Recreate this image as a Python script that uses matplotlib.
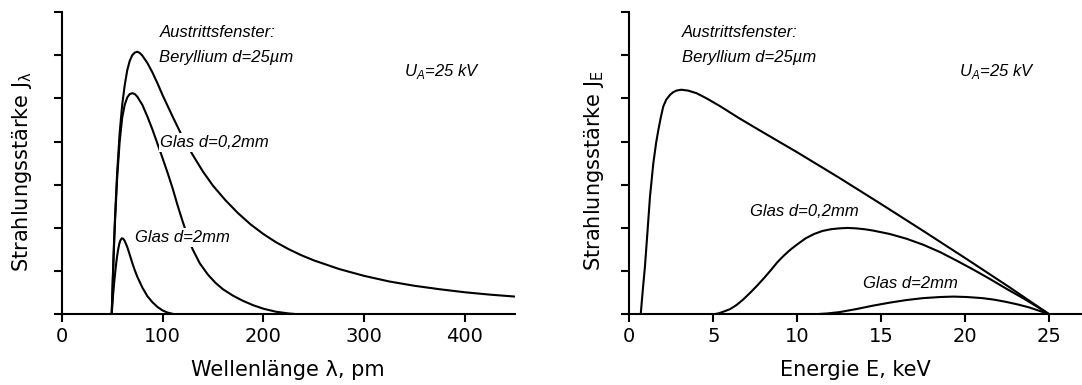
import matplotlib
matplotlib.use("Agg")
import matplotlib.pyplot as plt

# Wellenlaenge-Spektrum (pm), Werte
lam_be = [49.6, 51, 52, 53, 55, 57.5, 60, 62.5, 65, 67.5, 70, 72.5, 75, 77.5, 80, 85,
          90, 95, 100, 110, 120, 130, 140, 150, 162.5, 175, 187.5, 200, 212.5, 225,
          237.5, 250, 275, 300, 325, 350, 375, 400, 425, 450]
J_be = [0, 1.05, 1.72, 2.3, 3.28, 4.2, 4.85, 5.3, 5.65, 5.87, 6.0, 6.06, 6.08, 6.05,
        5.99, 5.82, 5.6, 5.35, 5.08, 4.58, 4.1, 3.69, 3.31, 2.98, 2.64, 2.34, 2.08,
        1.86, 1.67, 1.51, 1.37, 1.25, 1.05, 0.89, 0.76, 0.66, 0.58, 0.51, 0.455, 0.41]

lam_g02 = [49.6, 51, 52, 53, 55, 57.5, 60, 62.5, 65, 67.5, 70, 72.5, 75, 80, 85, 90,
           95, 100, 105, 110, 115, 120, 125, 130, 137, 145, 152.5, 160, 170, 180,
           190, 200, 212.5, 225, 235]
J_g02 = [0, 1.0, 1.65, 2.2, 3.15, 4.0, 4.55, 4.85, 5.02, 5.1, 5.12, 5.1, 5.04, 4.85,
         4.58, 4.28, 3.95, 3.62, 3.28, 2.92, 2.52, 2.15, 1.8, 1.5, 1.18, 0.92, 0.73,
         0.58, 0.43, 0.31, 0.21, 0.13, 0.06, 0.02, 0]

lam_g2 = [49.6, 51, 52, 53, 54, 55, 56, 57, 58, 59.5, 61, 62.5, 65, 67.5, 70, 72.5,
          75, 80, 85, 90, 95, 100, 105, 112]
J_g2 = [0, 0.45, 0.72, 0.95, 1.17, 1.35, 1.5, 1.62, 1.7, 1.76, 1.75, 1.7, 1.56,
        1.38, 1.19, 1.02, 0.87, 0.62, 0.42, 0.28, 0.17, 0.09, 0.04, 0]

# Energie-Spektrum (keV)
E_be = [0.68, 0.8, 0.93, 1.08, 1.23, 1.43, 1.6, 1.73, 1.87, 2.02, 2.2, 2.42, 2.6,
        2.8, 3.1, 3.5, 4.0, 4.6, 5.4, 6.5, 7.8, 10, 12.5, 15, 17.5, 20, 22.5, 25]
JE_be = [0, 0.55, 1.1, 1.9, 2.72, 3.5, 3.98, 4.27, 4.55, 4.81, 4.97, 5.08, 5.14,
         5.18, 5.2, 5.18, 5.12, 5.0, 4.82, 4.55, 4.25, 3.75, 3.16, 2.55, 1.93, 1.3,
         0.66, 0]

E_g02 = [5.0, 5.3, 5.6, 6.0, 6.4, 6.8, 7.2, 7.6, 8.0, 8.4, 8.8, 9.2, 9.6, 10.0, 10.5,
         11.0, 11.5, 12.0, 12.5, 13.0, 13.5, 14.0, 14.5, 15.5, 16.5, 17.5, 18.5,
         19.5, 20.5, 21.5, 22.5, 23.5, 24.3, 25.0]
JE_g02 = [0, 0.02, 0.06, 0.12, 0.22, 0.35, 0.5, 0.66, 0.83, 1.01, 1.2, 1.36, 1.5,
          1.62, 1.76, 1.86, 1.93, 1.97, 1.99, 2.0, 1.99, 1.97, 1.94, 1.86, 1.75,
          1.61, 1.44, 1.24, 1.03, 0.81, 0.58, 0.36, 0.17, 0]

E_g2 = [11.0, 11.8, 12.5, 13.5, 14.5, 15.5, 16.5, 17.5, 18.5, 19.3, 20.1, 21.0,
        21.7, 22.4, 23.1, 23.8, 24.45, 25.0]
JE_g2 = [0, 0.02, 0.05, 0.12, 0.2, 0.27, 0.33, 0.375, 0.4, 0.41, 0.4, 0.375, 0.34,
         0.29, 0.23, 0.16, 0.075, 0]

lam_ticks = [0, 100, 200, 300, 400]
E_ticks = [0, 5, 10, 15, 20, 25]

W, H = 1082, 385
fig = plt.figure(figsize=(W / 100, H / 100), dpi=100)


def fr(x, y):
    return x / W, 1 - y / H


def style(ax, xticks):
    for s in ["top", "right"]:
        ax.spines[s].set_visible(False)
    for s in ["left", "bottom"]:
        ax.spines[s].set_linewidth(1.5)
    ax.set_ylim(0, 7)
    ax.set_yticks(range(8))
    ax.set_yticklabels([])
    ax.set_xticks(xticks)
    ax.tick_params(direction="out", length=5.8, width=1.5, pad=3, labelsize=14)


ax1 = fig.add_axes([61.7 / W, 1 - 314.3 / H, (515.3 - 61.7) / W, (314.3 - 12) / H])
ax1.plot(lam_be, J_be, color="black", lw=1.5)
ax1.plot(lam_g02, J_g02, color="black", lw=1.5)
ax1.plot(lam_g2, J_g2, color="black", lw=1.5)
ax1.set_xlim(0, 450)
style(ax1, lam_ticks)

ax2 = fig.add_axes([629.3 / W, 1 - 314.3 / H, (W - 629.3) / W, (314.3 - 12) / H])
ax2.plot(E_be, JE_be, color="black", lw=1.5)
ax2.plot(E_g02, JE_g02, color="black", lw=1.5)
ax2.plot(E_g2, JE_g2, color="black", lw=1.5)
ax2.set_xlim(0, (W - 629.3) / 16.8)
style(ax2, E_ticks)

# Achsenbeschriftungen
fig.text(*fr(22.4, 171), "Strahlungsstärke J$_\\mathregular{λ}$", rotation=90,
         ha="center", va="center", fontsize=15)
fig.text(*fr(287.8, 370), "Wellenlänge λ, pm", ha="center", va="center", fontsize=15)
fig.text(*fr(594.5, 171), "Strahlungsstärke J$_\\mathregular{E}$", rotation=90,
         ha="center", va="center", fontsize=15)
fig.text(*fr(855, 370), "Energie E, keV", ha="center", va="center", fontsize=15)

it = dict(family="Liberation Sans", style="italic", fontsize=12, va="baseline")
box = dict(boxstyle="square,pad=0.12", fc="white", ec="none")

fig.text(*fr(159.4, 37.3), "Austrittsfenster:", **it)
fig.text(*fr(159.4, 62.3), "Beryllium d=25µm", **it)
fig.text(*fr(403.7, 76), "U$_\\mathregular{A}$=25 kV", **it)
fig.text(*fr(160.5, 146.7), "Glas d=0,2mm", bbox=box, **it)
fig.text(*fr(134.6, 241.7), "Glas d=2mm", bbox=box, **it)

fig.text(*fr(681.8, 37.3), "Austrittsfenster:", **it)
fig.text(*fr(681.8, 62.3), "Beryllium d=25µm", **it)
fig.text(*fr(958.5, 76), "U$_\\mathregular{A}$=25 kV", **it)
fig.text(*fr(750, 215.7), "Glas d=0,2mm", bbox=box, **it)
fig.text(*fr(862.7, 288.3), "Glas d=2mm", bbox=box, **it)

fig.savefig("out.png", dpi=100)
